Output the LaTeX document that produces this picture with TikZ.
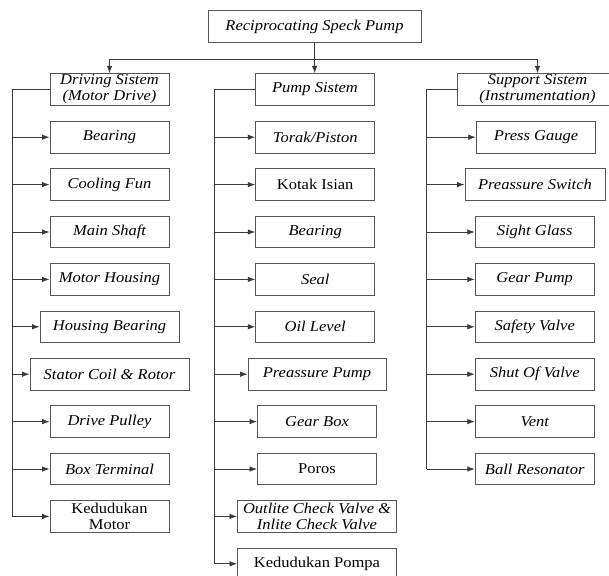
\documentclass[tikz,border=0pt]{standalone}
\usepackage{fontspec}
\setmainfont{Liberation Serif}[FakeStretch=1.1]
\usetikzlibrary{arrows.meta,positioning}
\definecolor{treeline}{HTML}{3A3A3A}
\definecolor{treebox}{HTML}{555555}
\tikzset{
  part/.style={
    draw=treebox,
    line width=0.9pt,
    minimum width=#1,
    minimum height=31.5pt,
    inner sep=0pt,
    align=center,
    font=\fontsize{15}{16}\selectfont\itshape
  },
  part/.default=119pt,
  plain/.style={font=\fontsize{15}{16}\selectfont\upshape},
  link/.style={draw=treeline,line width=0.8pt},
  arrow/.style={link,-{Latex[length=7.5pt,width=5.5pt]}}
}

\begin{document}
\begin{tikzpicture}[x=1pt,y=-1pt]
  \useasboundingbox (0,0) rectangle (609,575);

  \node[part=213pt] (pump) at (314.5,26.5) {Reciprocating Speck Pump};

  \node[part] (drive) at (109.5,89.5) {Driving Sistem\\(Motor Drive)};
  \node[part] (pumpsys) at (315,89.5) {Pump Sistem};
  \node[part=161pt] (support) at (537.5,89.5) {Support Sistem\\(Instrumentation)};

  % driving side
  \node[part] (d1) at (109.5,137.2) {Bearing};
  \node[part] (d2) at (109.5,184.6) {Cooling Fun};
  \node[part] (d3) at (109.5,232) {Main Shaft};
  \node[part] (d4) at (109.5,279.4) {Motor Housing};
  \node[part=139pt] (d5) at (109.5,326.8) {Housing Bearing};
  \node[part=159pt] (d6) at (109.5,374.2) {Stator Coil \& Rotor};
  \node[part] (d7) at (109.5,421.6) {Drive Pulley};
  \node[part] (d8) at (109.5,469) {Box Terminal};
  \node[part,plain] (d9) at (109.5,516.4) {Kedudukan\\Motor};

  % pump side
  \node[part] (p1) at (315.2,137.2) {Torak/Piston};
  \node[part,plain] (p2) at (315.2,184.6) {Kotak Isian};
  \node[part] (p3) at (315.2,232) {Bearing};
  \node[part] (p4) at (315.2,279.4) {Seal};
  \node[part] (p5) at (315.2,326.8) {Oil Level};
  \node[part=138pt] (p6) at (317,374.2) {Preassure Pump};
  \node[part] (p7) at (317,421.6) {Gear Box};
  \node[part,plain] (p8) at (317,469) {Poros};
  \node[part=159pt] (p9) at (317,516.4) {Outlite Check Valve \&\\Inlite Check Valve};
  \node[part=159pt,plain] (p10) at (317,563.8) {Kedudukan Pompa};

  % support side
  \node[part=119.5pt] (s1) at (536,137.2) {Press Gauge};
  \node[part=140pt] (s2) at (535,184.6) {Preassure Switch};
  \node[part] (s3) at (534.7,232) {Sight Glass};
  \node[part] (s4) at (534.7,279.4) {Gear Pump};
  \node[part] (s5) at (534.7,326.8) {Safety Valve};
  \node[part] (s6) at (534.7,374.2) {Shut Of Valve};
  \node[part] (s7) at (534.7,421.6) {Vent};
  \node[part] (s8) at (534.7,469) {Ball Resonator};

  % top level
  \coordinate (bus) at (314.5,59);
  \draw[link] (pump) -- (bus);
  \draw[arrow] (bus) -- (pumpsys);
  \draw[arrow] (bus) -| (drive);
  \draw[arrow] (bus) -| (support);

  % spines
  \coordinate (dx) at (12,0);
  \coordinate (px) at (214.3,0);
  \coordinate (sx) at (426.7,0);
  \draw[link] (drive.west) -| (dx |- d9);
  \draw[link] (pumpsys.west) -| (px |- p10);
  \draw[link] (support.west) -| (sx |- s8);

  \foreach \n in {d1,d2,d3,d4,d5,d6,d7,d8,d9}
    \draw[arrow] (dx |- \n) -- (\n);
  \foreach \n in {p1,p2,p3,p4,p5,p6,p7,p8,p9,p10}
    \draw[arrow] (px |- \n) -- (\n);
  \foreach \n in {s1,s2,s3,s4,s5,s6,s7,s8}
    \draw[arrow] (sx |- \n) -- (\n);
\end{tikzpicture}
\end{document}
